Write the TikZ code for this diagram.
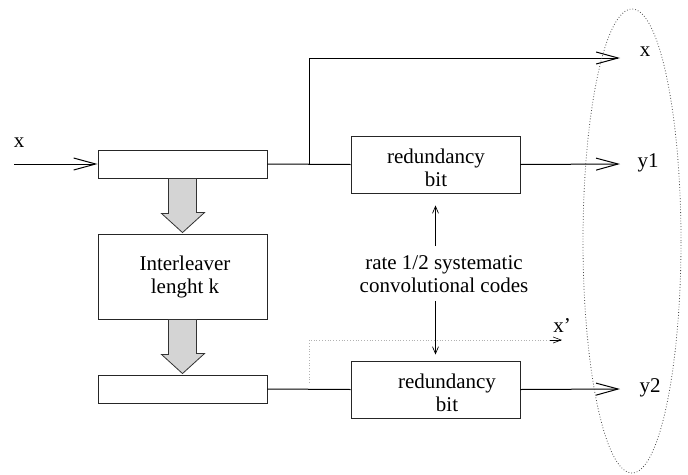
\documentclass[tikz,border=0pt]{standalone}
\usepackage{fontspec}
\setmainfont{Liberation Serif}
\usetikzlibrary{arrows.meta,calc,shapes.geometric}
\begin{document}
\begin{tikzpicture}[x=1pt,y=-1pt,
  every node/.style={font=\fontsize{21}{23}\selectfont},
  box/.style={draw=black!85,line width=0.9pt,fill=white,minimum width=169pt,inner sep=0pt},
  wire/.style={line width=1pt},
  bigarrow/.style={wire,-{Straight Barb[length=22pt,width=12pt,line width=1pt]}},
  smallarrow/.style={line width=0.7pt,-{Straight Barb[length=7pt,width=6pt]}},
  garrow/.style={draw=black!80,line width=0.8pt,fill=black!17},
  lbl/.style={inner sep=0pt,align=center}]
\useasboundingbox (0,0) rectangle (688,474);
% blocks
\node[box,minimum height=28pt] (reg1) at (182.5,164) {};
\node[box,minimum height=85pt,align=center] (inter) at (182.5,276.5) {};
\node[lbl] (intertxt) at (185,277) {Interleaver\\lenght k};
\node[box,minimum height=28pt] (reg2) at (182.5,389) {};
\node[box,minimum height=57pt] (red1) at (435.5,164.5) {};
\node[lbl] (red1txt) at (436,168) {redundancy\\bit};
\node[box,minimum height=57pt] (red2) at (435.5,389.5) {};
\node[lbl] (red2txt) at (447,393) {redundancy\\bit};
\node[lbl] (rate) at (444,274) {rate 1/2 systematic\\convolutional codes};
% labels
\node[lbl] (lx) at (19,143) {x};
\node[lbl] (ox) at (645,52) {x};
\node[lbl] (oy1) at (648,163) {y1};
\node[lbl] (oy2) at (650,388) {y2};
\node[lbl] (oxp) at (562,326) {x'};
% coordinates
\coordinate (in) at (14,164);
\coordinate (br) at (309,164);
\coordinate (tx) at (620,58);
\coordinate (t1) at (620,164);
\coordinate (t2) at (620,389);
% wires
\draw[bigarrow] (in) -- (reg1.west);
\draw[wire] (reg1.east) -- (red1.west);
\draw[bigarrow] (br) |- (tx);
\draw[bigarrow] (red1.east) -- (t1);
\draw[wire] (reg2.east) -- (red2.west);
\draw[bigarrow] (red2.east) -- (t2);
\draw[smallarrow,shorten >=12pt] (rate.north -| red1.south) ++(0,-9) coordinate (rup) -- (red1.south);
\draw[smallarrow,shorten >=6pt,shorten <=8pt] (rate.south -| red2.north) -- (red2.north);
% dotted x' path
\coordinate (dp0) at (309,383);
\coordinate (dp1) at (550,340);
\draw[black!30,dotted,line width=0.8pt] (dp0) |- (dp1);
\draw[line width=0.6pt,-{Straight Barb[length=8pt,width=6pt]}] (dp1) -- ++(12,0) coordinate (dp2);
% gray transfer arrows
\draw[garrow] ($(reg1.south)+(-14,0)$) -- ++(0,35) -- ++(-7,0) -- ($(inter.north)+(0,-1)$)
  -- ++(22,-20) -- ++(-8,0) -- ($(reg1.south)+(14,0)$) -- cycle;
\draw[garrow] ($(inter.south)+(-14,0)$) -- ++(0,35) -- ++(-7,0) -- ($(reg2.north)+(0,-1)$)
  -- ++(22,-20) -- ++(-8,0) -- ($(inter.south)+(14,0)$) -- cycle;
% output ellipse
\node[draw=black!70,dotted,line width=0.8pt,ellipse,minimum width=98pt,minimum height=464pt,inner sep=0pt] (outs) at (632,241) {};
\end{tikzpicture}
\end{document}
